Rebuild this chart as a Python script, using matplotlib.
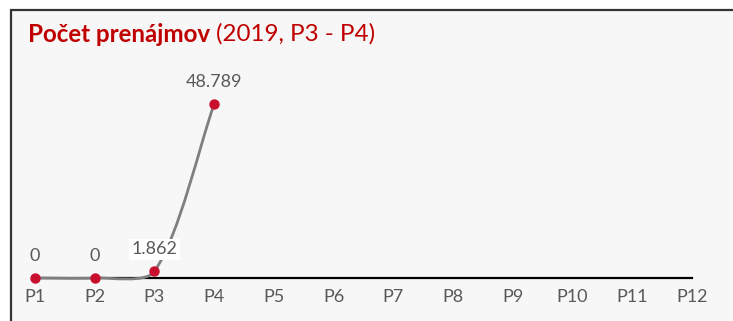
import matplotlib
matplotlib.use("Agg")
import matplotlib.pyplot as plt
from matplotlib.path import Path
from matplotlib.patches import PathPatch, Rectangle
import numpy as np

categories = ["P1", "P2", "P3", "P4", "P5", "P6", "P7", "P8", "P9", "P10", "P11", "P12"]
values = [0, 0, 1862, 48789]
labels = ["0", "0", "1.862", "48.789"]

W, H = 733, 321
fig = plt.figure(figsize=(W / 100, H / 100), dpi=100)
fig.patch.set_facecolor("white")
plt.rcParams['font.family'] = ['Lato', 'DejaVu Sans']

# outer frame
fig.patches.append(Rectangle((11 / W, -0.05), 1.2, (H - 10) / H + 0.05, transform=fig.transFigure,
                             facecolor="#f7f7f7", edgecolor="#333333", linewidth=1.6, zorder=-5))

AX_W, AX_H = 657, 178.3
ax = fig.add_axes([35 / W, 43 / H, AX_W / W, AX_H / H])
ax.set_zorder(2)
ax.set_facecolor("none")
ax.set_xlim(0, len(categories) - 1)
ax.set_ylim(0, 50000)
for s in ["top", "right", "left"]:
    ax.spines[s].set_visible(False)
ax.spines["bottom"].set_color("black")
ax.spines["bottom"].set_linewidth(1.6)
ax.set_yticks([])
ax.set_xticks(range(len(categories)))
ax.set_xticklabels(categories, fontsize=13, color="#595959")
ax.tick_params(axis="x", length=0, pad=8)

# smoothed line (Excel-like Bezier, computed in pixel space)
sx = AX_W / (len(categories) - 1)
sy = AX_H / 50000
x = np.arange(len(values), dtype=float)
y = np.array(values, dtype=float)
P = np.column_stack([x * sx, y * sy])
n = len(P)
tang = []
for i in range(n):
    d = P[min(i + 1, n - 1)] - P[max(i - 1, 0)]
    tang.append(d / np.hypot(*d))
verts = [tuple(P[0])]
codes = [Path.MOVETO]
k = 0.25
for i in range(n - 1):
    L = np.hypot(*(P[i + 1] - P[i]))
    c1 = P[i] + tang[i] * L * k
    c2 = P[i + 1] - tang[i + 1] * L * k
    verts += [tuple(c1), tuple(c2), tuple(P[i + 1])]
    codes += [Path.CURVE4] * 3
verts = [(vx / sx, vy / sy) for vx, vy in verts]
ax.add_patch(PathPatch(Path(verts, codes), facecolor="none", edgecolor="#7f7f7f",
                       linewidth=2, clip_on=False, zorder=3))
ax.plot(x, y, linestyle="none", marker="o", markersize=6.5, color="#c8102e", clip_on=False, zorder=4)

for i, (v, lab) in enumerate(zip(values, labels)):
    bbox = dict(facecolor="white", edgecolor="none", pad=2) if lab == "1.862" else None
    ax.annotate(lab, (i, v), xytext=(0, 10), textcoords="offset points", ha="center", va="bottom",
                fontsize=13, color="#595959", bbox=bbox, zorder=5, annotation_clip=False)

TS = 17.4
fig.text(28 / W, 1 - 34 / H, "Počet prenájmov", fontsize=TS, fontweight="bold", color="#c00000",
         va="center", ha="left")
t1 = fig.text(0, 0, "Počet prenájmov ", fontsize=TS, fontweight="bold")
fig.canvas.draw()
bb = t1.get_window_extent()
t1.remove()
fig.text(28 / W + bb.width / W, 1 - 34 / H, "(2019, P3 - P4)", fontsize=TS, color="#c00000",
         va="center", ha="left")

fig.savefig("out.png", dpi=100, facecolor="white")
